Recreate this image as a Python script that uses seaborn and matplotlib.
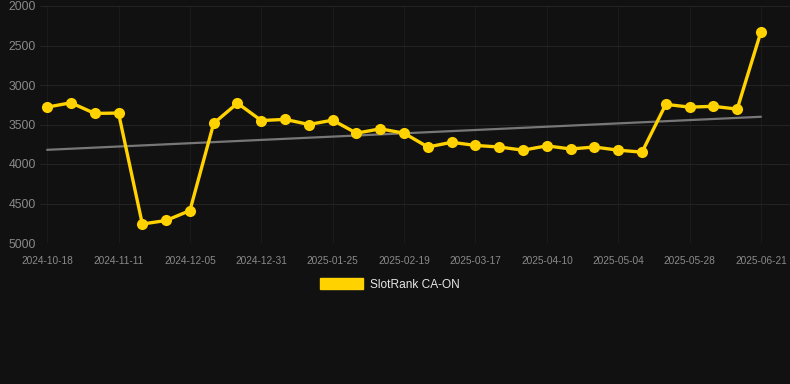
import matplotlib
matplotlib.use("Agg")
import matplotlib.pyplot as plt
import seaborn as sns
import numpy as np
import pandas as pd
from matplotlib.patches import Patch

dates = ["2024-10-18", "2024-10-26", "2024-11-03", "2024-11-11", "2024-11-19", "2024-11-27",
         "2024-12-05", "2024-12-14", "2024-12-22", "2024-12-31", "2025-01-08", "2025-01-16",
         "2025-01-25", "2025-02-02", "2025-02-10", "2025-02-19", "2025-02-27", "2025-03-08",
         "2025-03-17", "2025-03-25", "2025-04-02", "2025-04-10", "2025-04-18", "2025-04-26",
         "2025-05-04", "2025-05-12", "2025-05-20", "2025-05-28", "2025-06-05", "2025-06-13",
         "2025-06-21"]
ranks = [3280, 3225, 3360, 3355, 4760, 4715, 4590, 3485, 3230, 3450, 3435, 3500, 3445,
         3610, 3555, 3610, 3785, 3725, 3765, 3785, 3825, 3770, 3810, 3785, 3825, 3850,
         3245, 3280, 3270, 3305, 2325]
series_name = "SlotRank CA-ON"
y_ticks = [2000, 2500, 3000, 3500, 4000, 4500, 5000]

BG = "#111111"
GOLD = "#FFD200"

df = pd.DataFrame({"idx": np.arange(len(dates)), "date": dates, "rank": ranks})

sns.set_theme(style="dark")
plt.rcParams["font.family"] = ["Liberation Sans", "DejaVu Sans"]

fig = plt.figure(figsize=(7.9, 3.84), dpi=100, facecolor=BG)
ax = fig.add_axes([40 / 790, 141 / 384, 750 / 790, 237 / 384])
ax.set_facecolor(BG)

# trend line (linear regression)
sns.regplot(data=df, x="idx", y="rank", scatter=False, ci=None, ax=ax,
            line_kws={"color": "#777777", "lw": 1.6, "zorder": 2}, truncate=True)

sns.lineplot(data=df, x="idx", y="rank", ax=ax, color=GOLD, lw=2.4,
             marker="o", markersize=8, markeredgewidth=0, zorder=3, legend=False)

ax.set_ylim(5000, 2000)
ax.set_yticks(y_ticks)
ax.set_xlim(-0.3, len(dates) - 1 + 1.22)
tick_idx = list(range(0, len(dates), 3))
ax.set_xticks(tick_idx)
ax.set_xticklabels([dates[i] for i in tick_idx])

ax.grid(False)
ax.yaxis.grid(True, color="#232323", lw=0.8)
ax.xaxis.grid(True, color="#1b1b1b", lw=0.8)
ax.set_axisbelow(True)
for s in ax.spines.values():
    s.set_visible(False)
ax.set_xlabel("")
ax.set_ylabel("")
ax.tick_params(axis="x", colors="#8a8a8a", labelsize=7.3, pad=9, length=0)
ax.tick_params(axis="y", colors="#8a8a8a", labelsize=8.7, pad=3, length=0)

handle = Patch(facecolor=GOLD, edgecolor=GOLD)
leg = fig.legend(handles=[handle], labels=[series_name], loc="center",
                 bbox_to_anchor=(0.493, 0.26), frameon=False, fontsize=8.6,
                 handlelength=3.6, handleheight=1.1, handletextpad=0.6)
for t in leg.get_texts():
    t.set_color("#e6e6e6")

fig.savefig("out.png", dpi=100, facecolor=BG)
